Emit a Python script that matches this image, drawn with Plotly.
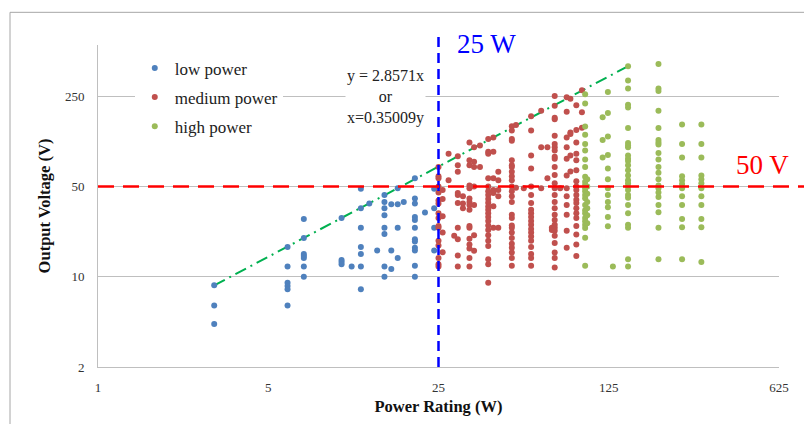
import plotly.graph_objects as go

# ---------------- data (Power rating W, Output voltage V) ----------------
low_x = [3, 3, 3,
         6, 6, 6, 6, 6, 6,
         7, 7, 7, 7, 7, 7, 7,
         10, 10, 10, 10,
         11,
         12, 12, 12, 12, 12, 12, 12,
         13, 14,
         15, 15, 15, 15, 15, 15, 15, 15,
         16, 16, 16,
         17, 17, 17, 17,
         18,
         20, 20, 20, 20, 20, 20, 20, 20, 20, 20, 20, 20,
         22,
         24, 24, 24, 24]
low_v = [8.6, 6, 4.3,
         17, 12, 9, 8.5, 8, 6,
         28, 20, 15, 14.5, 14, 12, 10,
         28.5, 13.5, 13, 12.5,
         12,
         48, 34, 24, 17, 15, 12, 8,
         37, 16,
         43, 38, 34, 30, 24, 21.5, 12, 10,
         36.5, 16, 11.5,
         48.5, 36.5, 24, 14,
         38,
         58, 40.5, 37, 29, 27.5, 24, 19.5, 18.8, 16.8, 16, 12.2, 10,
         31.5,
         48, 34, 24, 16]

mid_x = ([25] * 16 + [26] * 5 + [27.5] * 2 + [29] + [30] * 10 + [31.5] * 3
         + [33.5] * 16 + [35] * 7 + [37] * 2 + [40] * 22 + [42] * 7 + [44] * 5
         + [50] * 25 + [52] * 2 + [56] + [60] * 20 + [66] * 3 + [70] * 2
         + [73] * 2 + [75] * 27 + [79] + [84] * 12 + [87] * 5 + [92] * 19
         + [97] * 3)
mid_v = [71, 60, 58, 50, 45, 39, 37, 31, 28.5, 24.7, 24, 19, 17.5, 14, 12.5, 12,
         47, 40, 29.5, 22, 15.5,
         90, 56,
         20.8,
         86, 73, 65, 44.6, 43, 37.3, 24, 19.5, 14.6, 12,
         42, 37, 34,
         110, 80, 73, 51, 48.5, 40.5, 38, 36, 33, 24.7, 24, 19.7, 17.8, 16.6, 14, 12,
         101, 78, 71, 50, 36, 21, 15.9,
         104, 71,
         117, 93, 90, 58, 50, 46, 43, 40, 37.5, 35, 33, 31, 29, 27, 25, 23, 21, 19,
         17.3, 13.7, 12.5, 9,
         120, 93, 58, 47, 44.6, 35.2, 24,
         65, 56, 47, 42, 24,
         147, 136, 117, 113, 80, 73, 71, 65, 60, 56, 50, 46, 42, 38, 30.3, 28.5,
         25, 24, 22, 20, 18, 16.8, 15.4, 14, 12.2,
         150, 49,
         48.5,
         175, 136, 87, 69, 50, 43, 37.3, 33, 31, 29, 27, 25.3, 23.5, 22, 20.5, 19,
         17, 15, 14, 12.2,
         193, 101, 48.5,
         101, 58,
         24, 23,
         252, 211, 171, 166, 124, 107, 101, 95, 85, 82, 71, 61.5, 53, 48.5, 43, 38,
         34, 30.3, 27.5, 25.3, 24, 22.7, 20.8, 18.3, 15.4, 14, 11.8,
         48.5,
         246, 190, 120, 101, 82, 61, 48.5, 42, 36, 30.3, 22.7, 16.8,
         240, 131, 128, 87, 65.5,
         213, 137, 110, 90, 80, 67, 55, 50, 47, 43, 39.5, 37.3, 34, 31, 28.5, 24.7,
         21.3, 17.8, 14.5,
         279, 188, 143]

high_x = ([100] * 24 + [102] * 7 + [118] * 3 + [124] * 12 + [130]
          + [150] * 27 + [200] * 21 + [250] * 12 + [300] * 12)
high_v = [260, 220, 146, 126, 107, 95, 81, 71, 59.7, 54.6, 51.4, 48.5, 45.9, 43.1,
          40.6, 36, 32.8, 31, 28.5, 26.9, 25.3, 23.9, 20.1, 12.2,
          57, 50, 44, 38, 34, 30, 26,
          172, 115, 84,
          270, 186, 122, 88, 69, 57, 48.5, 43, 38, 34.6, 29, 24.6,
          12,
          427, 332, 287, 215, 205, 142, 109, 104, 101, 87, 82, 79, 73, 67, 61, 56,
          53, 50, 47, 43, 41, 36, 31, 25.3, 24, 13.7, 12,
          446, 287, 275, 193, 142, 115, 110, 106, 91, 81, 71, 64, 57, 51, 48.5, 45,
          41.5, 36, 31.6, 24, 13.7,
          151, 107, 84, 60, 56, 52.3, 48.5, 42, 36, 28, 24.2, 13.7,
          151, 107, 84, 61, 57, 53, 48.5, 42, 36, 28, 24.2, 13]

# trend line y = 2.8571x
trend_x = [3, 150]
trend_y = [8.571, 428.6]

x_ticks = [1, 5, 25, 125, 625]
y_ticks = [2, 10, 50, 250]
v_limit = 50   # V
p_limit = 25   # W

SERIF = "Liberation Serif"

# ---------------- figure ----------------
fig = go.Figure()

fig.add_trace(go.Scatter(x=trend_x, y=trend_y, mode="lines", showlegend=False,
                         line=dict(color="#00B050", width=2, dash="12px,5px,2px,5px"),
                         hoverinfo="skip"))

for name, xs, ys, col, grp in [("low power", low_x, low_v, "#4F81BD", "a"),
                               ("medium power", mid_x, mid_v, "#C0504D", "b"),
                               ("high power", high_x, high_v, "#9BBB59", "c")]:
    fig.add_trace(go.Scatter(x=xs, y=ys, mode="markers", name=name, legendgroup=grp,
                             marker=dict(color=col, size=6, line=dict(width=0))))

# reference lines
fig.add_shape(type="line", xref="x", yref="paper", x0=p_limit, x1=p_limit,
              y0=0, y1=1.037, line=dict(color="#0000FF", width=2.5, dash="10px,6px"))
fig.add_shape(type="line", xref="paper", yref="y", x0=0, x1=1.04,
              y0=v_limit, y1=v_limit, line=dict(color="#FF0000", width=2.5, dash="16px,9px"))
# outer chart border
fig.add_shape(type="rect", xref="paper", yref="paper", x0=-0.1292, x1=2,
              y0=-1, y1=1.1015, line=dict(color="#A6A6A6", width=1),
              fillcolor="rgba(0,0,0,0)")

fig.add_annotation(xref="paper", yref="paper", x=0.4229, y=0.84,
                   text="y = 2.8571x<br>or<br>x=0.35009y", showarrow=False,
                   xanchor="center", yanchor="middle", bgcolor="white",
                   font=dict(family=SERIF, size=16, color="#222222"))
fig.add_annotation(xref="paper", yref="paper", x=0.5698, y=1.003,
                   text="25 W", showarrow=False, xanchor="center", yanchor="middle",
                   font=dict(family=SERIF, size=27, color="#0000FF"))
fig.add_annotation(xref="paper", yref="paper", x=0.9765, y=0.6277,
                   text="50 V", showarrow=False, xanchor="center", yanchor="middle",
                   font=dict(family=SERIF, size=27, color="#FF0000"))

fig.update_layout(
    width=804, height=424,
    margin=dict(l=98, r=25, t=45, b=54),
    paper_bgcolor="white", plot_bgcolor="white",
    font=dict(family=SERIF, color="#333333"),
    legend=dict(x=0.054, y=0.983, xanchor="left", yanchor="top",
                bgcolor="white", tracegroupgap=4,
                font=dict(family=SERIF, size=17, color="#222222")),
    xaxis=dict(type="log", range=[0, 2.79588], tickvals=x_ticks,
               ticktext=[str(v) for v in x_ticks], showgrid=False,
               showline=True, linecolor="#BFBFBF", linewidth=1, ticks="",
               ticklabelstandoff=8, zeroline=False,
               tickfont=dict(family=SERIF, size=13, color="#333333"),
               title=dict(text="<b>Power Rating (W)</b>", standoff=6,
                          font=dict(family=SERIF, size=16.5, color="#111111"))),
    yaxis=dict(type="log", range=[0.30103, 2.79588], tickvals=y_ticks,
               ticktext=[str(v) for v in y_ticks], showgrid=True,
               gridcolor="#BFBFBF", gridwidth=1,
               showline=True, linecolor="#BFBFBF", linewidth=1, ticks="",
               ticklabelstandoff=10, zeroline=False,
               tickfont=dict(family=SERIF, size=13, color="#333333"),
               title=dict(text="<b>Output Voltage (V)</b>", standoff=10,
                          font=dict(family=SERIF, size=16.5, color="#111111"))),
)

fig.write_html("out.html")
